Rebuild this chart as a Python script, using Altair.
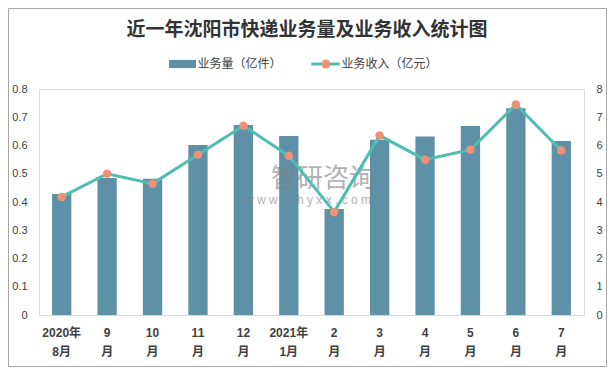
import altair as alt
import pandas as pd

months = ["2020年\n8月", "9\n月", "10\n月", "11\n月", "12\n月", "2021年\n1月",
          "2\n月", "3\n月", "4\n月", "5\n月", "6\n月", "7\n月"]
volume = [0.428, 0.485, 0.482, 0.602, 0.673, 0.634, 0.375, 0.620, 0.632, 0.669, 0.732, 0.616]
revenue = [4.18, 5.00, 4.65, 5.67, 6.70, 5.64, 3.65, 6.35, 5.50, 5.85, 7.45, 5.82]
left_ticks = [0, 0.1, 0.2, 0.3, 0.4, 0.5, 0.6, 0.7, 0.8]
right_ticks = [0, 1, 2, 3, 4, 5, 6, 7, 8]
series_bar = "业务量（亿件）"
series_line = "业务收入（亿元）"
title_text = "近一年沈阳市快递业务量及业务收入统计图"

df = pd.DataFrame({"month": months, "volume": volume, "revenue": revenue,
                   "s1": series_bar, "s2": series_line})

FONT = "Liberation Sans, Noto Sans CJK SC"
CJK = "Noto Sans CJK SC"
BAR_C = "#5E91A8"
LINE_C = "#4FBDB2"
DOT_C = "#EE9277"
LAB_C = "#404040"

x_enc = alt.X("month:N", sort=months,
              scale=alt.Scale(paddingInner=0.575, paddingOuter=0.2875),
              axis=alt.Axis(title=None, labelAngle=0, ticks=False, domainColor="#D9D9D9",
                            labelExpr="split(datum.label, '\\n')", labelFont=FONT,
                            labelFontSize=12, labelFontWeight="bold", labelColor=LAB_C,
                            labelLineHeight=19, labelPadding=12, grid=False))

bars = alt.Chart(df).mark_bar().encode(
    x=x_enc,
    y=alt.Y("volume:Q", scale=alt.Scale(domain=[0, 0.8], nice=False),
            axis=alt.Axis(title=None, values=left_ticks, format="~g", domain=False, ticks=False,
                          grid=False, labelPadding=12, labelFont=FONT, labelFontSize=11,
                          labelColor=LAB_C, orient="left")),
    color=alt.Color("s1:N", scale=alt.Scale(range=[BAR_C]),
                    legend=alt.Legend(title=None, orient="none", legendX=130, legendY=-38.5,
                                      symbolType="M-1,-0.3H1V0.3H-1Z", symbolSize=729,
                                      symbolStrokeWidth=0, labelFont=CJK, labelFontSize=12,
                                      labelColor=LAB_C, labelOffset=1.5, padding=0)),
)

line = alt.Chart(df).mark_line(strokeWidth=3).encode(
    x=x_enc,
    y=alt.Y("revenue:Q", scale=alt.Scale(domain=[0, 8], nice=False),
            axis=alt.Axis(title=None, values=right_ticks, format="d", domain=False, ticks=False,
                          grid=False, labelPadding=12, labelFont=FONT, labelFontSize=11,
                          labelColor=LAB_C, orient="right")),
    color=alt.Color("s2:N", scale=alt.Scale(range=[LINE_C]),
                    legend=alt.Legend(title=None, orient="none", legendX=270.5, legendY=-41,
                                      symbolType="stroke", symbolSize=800, symbolStrokeWidth=3,
                                      labelFont=CJK, labelFontSize=12, labelColor=LAB_C,
                                      labelOffset=0, padding=0)),
)

points = alt.Chart(df).mark_circle(size=72, opacity=1).encode(
    x=x_enc,
    y=alt.Y("revenue:Q", scale=alt.Scale(domain=[0, 8], nice=False), axis=None),
    color=alt.Color("s2:N", scale=alt.Scale(range=[DOT_C]),
                    legend=alt.Legend(title=None, orient="none", legendX=281, legendY=-31,
                                      symbolType="circle", symbolSize=81, symbolStrokeWidth=0,
                                      labelFont=CJK, labelFontSize=12, labelExpr="''",
                                      labelOffset=0, padding=0)),
)

one = alt.Data(values=[{"a": 1}])
title = alt.Chart(one).mark_text(text=title_text, font=CJK, fontSize=19, fontWeight="bold",
                                 color="#333333", align="center", baseline="middle").encode(
    x=alt.value(268), y=alt.value(-59))
wm1 = alt.Chart(one).mark_text(text="智研咨询", font=CJK, fontSize=26, color="#808080",
                               opacity=0.6, align="center", baseline="middle").encode(
    x=alt.value(284), y=alt.value(90))
wm2 = alt.Chart(one).mark_text(text="w w w . c h y x x . c o m", font=FONT, fontSize=12,
                               color="#808080", opacity=0.6, align="center",
                               baseline="middle").encode(
    x=alt.value(269), y=alt.value(111))
frame = alt.Chart(one).mark_rect(fillOpacity=0, stroke="#A6A6A6", strokeWidth=1, clip=False).encode(
    x=alt.value(-30.5), x2=alt.value(567.5), y=alt.value(-80.5), y2=alt.value(277.5))

chart = alt.layer(bars, wm1, wm2, line, points, title, frame).resolve_scale(
    y="independent", color="independent"
).properties(
    width=545, height=226,
    autosize=alt.AutoSizeParams(type="none"),
    padding={"left": 31, "top": 81, "right": 23, "bottom": 52},
).configure_view(stroke=None).configure(background="white")

chart.save("out.html", embed_options={"renderer": "svg", "actions": False})
